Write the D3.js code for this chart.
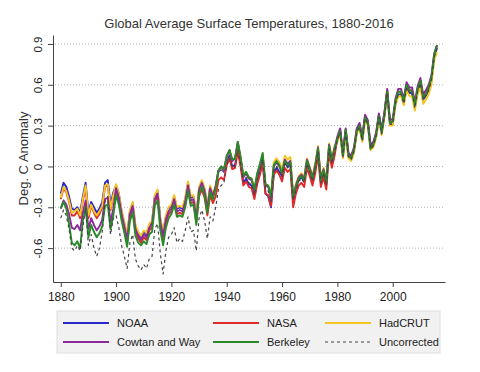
<!DOCTYPE html>
<html>
<head>
<meta charset="utf-8">
<script src="https://cdn.jsdelivr.net/npm/d3@7"></script>
<style>
  body { margin: 0; background: #fff; }
  svg { display: block; font-family: "Liberation Sans", Arial, sans-serif; }
</style>
</head>
<body>
<div id="chart"></div>
<script>
// Years covered by every series (one value per year, 1880-2016)
const years = d3.range(1880, 2017);

// Annual anomalies, deg C
const noaa = [
  -0.20,-0.12,-0.15,-0.22,-0.31,-0.32,-0.30,-0.34,-0.22,-0.12,
  -0.34,-0.26,-0.30,-0.34,-0.31,-0.26,-0.12,-0.10,-0.28,-0.19,
  -0.14,-0.20,-0.33,-0.42,-0.51,-0.33,-0.27,-0.44,-0.49,-0.52,
  -0.48,-0.50,-0.43,-0.41,-0.22,-0.18,-0.39,-0.49,-0.37,-0.31,
  -0.29,-0.22,-0.31,-0.30,-0.31,-0.24,-0.12,-0.23,-0.22,-0.37,
  -0.16,-0.11,-0.17,-0.30,-0.15,-0.21,-0.16,-0.04,-0.02,-0.04,
   0.03, 0.08, 0.00, 0.01, 0.13, 0.02,-0.12,-0.09,-0.13,-0.14,
  -0.22,-0.11,-0.04, 0.04,-0.20,-0.22,-0.30,-0.05,-0.01,-0.04,
  -0.07, 0.03, 0.00, 0.02,-0.24,-0.16,-0.10,-0.08,-0.11, 0.03,
  -0.03,-0.10,-0.01, 0.12,-0.11,-0.04,-0.13, 0.14, 0.03, 0.12,
   0.19, 0.25, 0.07, 0.25, 0.07, 0.05, 0.11, 0.25, 0.29, 0.19,
   0.35, 0.31, 0.13, 0.15, 0.22, 0.36, 0.24, 0.37, 0.54, 0.31,
   0.31, 0.46, 0.53, 0.53, 0.46, 0.58, 0.54, 0.54, 0.43, 0.55,
   0.61, 0.49, 0.52, 0.56, 0.63, 0.80, 0.87
];
const nasa = [
  -0.24,-0.16,-0.19,-0.26,-0.36,-0.36,-0.33,-0.38,-0.25,-0.16,
  -0.38,-0.29,-0.34,-0.38,-0.35,-0.30,-0.15,-0.14,-0.32,-0.22,
  -0.18,-0.25,-0.37,-0.46,-0.56,-0.37,-0.31,-0.48,-0.53,-0.56,
  -0.52,-0.54,-0.47,-0.45,-0.26,-0.22,-0.43,-0.53,-0.41,-0.35,
  -0.33,-0.26,-0.35,-0.34,-0.35,-0.28,-0.16,-0.27,-0.26,-0.41,
  -0.22,-0.17,-0.23,-0.36,-0.21,-0.27,-0.22,-0.10,-0.08,-0.10,
   0.01, 0.06,-0.02,-0.01, 0.11, 0.00,-0.14,-0.11,-0.15,-0.16,
  -0.24,-0.13,-0.06, 0.02,-0.20,-0.21,-0.29,-0.06,-0.03,-0.06,
  -0.11,-0.01,-0.04,-0.02,-0.30,-0.20,-0.14,-0.12,-0.15,-0.01,
  -0.07,-0.14,-0.05, 0.08,-0.15,-0.08,-0.17, 0.10,-0.01, 0.08,
   0.21, 0.27, 0.09, 0.27, 0.09, 0.07, 0.13, 0.27, 0.31, 0.21,
   0.37, 0.33, 0.15, 0.17, 0.24, 0.38, 0.26, 0.39, 0.56, 0.33,
   0.33, 0.48, 0.55, 0.55, 0.48, 0.60, 0.56, 0.56, 0.45, 0.57,
   0.63, 0.51, 0.54, 0.58, 0.65, 0.82, 0.89
];
const hadcrut = [
  -0.23,-0.15,-0.18,-0.25,-0.34,-0.33,-0.31,-0.36,-0.24,-0.14,
  -0.36,-0.28,-0.33,-0.36,-0.33,-0.29,-0.14,-0.13,-0.31,-0.21,
  -0.13,-0.20,-0.32,-0.41,-0.50,-0.32,-0.26,-0.43,-0.48,-0.51,
  -0.47,-0.49,-0.42,-0.40,-0.21,-0.17,-0.38,-0.48,-0.36,-0.30,
  -0.28,-0.21,-0.30,-0.29,-0.30,-0.23,-0.11,-0.22,-0.21,-0.36,
  -0.15,-0.10,-0.16,-0.29,-0.14,-0.20,-0.15,-0.03,-0.01,-0.03,
   0.07, 0.12, 0.05, 0.05, 0.17, 0.07,-0.07,-0.04,-0.08,-0.09,
  -0.17,-0.06, 0.01, 0.09,-0.13,-0.14,-0.22, 0.03, 0.06, 0.03,
  -0.02, 0.08, 0.05, 0.07,-0.21,-0.13,-0.07,-0.05,-0.08, 0.06,
   0.00,-0.07, 0.02, 0.15,-0.08,-0.01,-0.10, 0.17, 0.06, 0.15,
   0.18, 0.24, 0.06, 0.24, 0.06, 0.04, 0.10, 0.24, 0.28, 0.18,
   0.34, 0.30, 0.12, 0.14, 0.21, 0.35, 0.23, 0.36, 0.54, 0.30,
   0.30, 0.45, 0.51, 0.52, 0.45, 0.56, 0.52, 0.51, 0.41, 0.53,
   0.58, 0.46, 0.49, 0.53, 0.60, 0.78, 0.84
];
const cowtanWay = [
  -0.31,-0.25,-0.28,-0.35,-0.45,-0.46,-0.43,-0.47,-0.34,-0.25,
  -0.46,-0.38,-0.43,-0.47,-0.44,-0.39,-0.24,-0.23,-0.41,-0.31,
  -0.16,-0.23,-0.35,-0.44,-0.54,-0.35,-0.29,-0.46,-0.51,-0.54,
  -0.50,-0.52,-0.45,-0.43,-0.24,-0.20,-0.41,-0.51,-0.39,-0.33,
  -0.31,-0.24,-0.33,-0.32,-0.33,-0.26,-0.14,-0.25,-0.24,-0.39,
  -0.17,-0.12,-0.18,-0.31,-0.16,-0.22,-0.14,-0.03, 0.00,-0.03,
   0.07, 0.12, 0.04, 0.06, 0.18, 0.06,-0.08,-0.05,-0.09,-0.10,
  -0.18,-0.07, 0.00, 0.08,-0.14,-0.15,-0.23, 0.00, 0.03, 0.00,
  -0.05, 0.05, 0.02, 0.04,-0.22,-0.14,-0.08,-0.06,-0.09, 0.05,
  -0.01,-0.08, 0.01, 0.14,-0.09,-0.02,-0.11, 0.16, 0.05, 0.14,
   0.22, 0.28, 0.10, 0.28, 0.10, 0.08, 0.14, 0.28, 0.32, 0.22,
   0.38, 0.34, 0.16, 0.18, 0.25, 0.39, 0.27, 0.40, 0.57, 0.34,
   0.35, 0.50, 0.57, 0.57, 0.50, 0.62, 0.58, 0.58, 0.47, 0.59,
   0.65, 0.53, 0.56, 0.60, 0.67, 0.83, 0.89
];
const berkeley = [
  -0.31,-0.26,-0.31,-0.42,-0.56,-0.58,-0.55,-0.60,-0.40,-0.30,
  -0.52,-0.43,-0.48,-0.52,-0.49,-0.44,-0.29,-0.28,-0.46,-0.36,
  -0.21,-0.28,-0.40,-0.49,-0.59,-0.40,-0.34,-0.51,-0.56,-0.58,
  -0.55,-0.57,-0.50,-0.48,-0.29,-0.25,-0.47,-0.58,-0.45,-0.38,
  -0.35,-0.28,-0.37,-0.36,-0.37,-0.30,-0.18,-0.29,-0.28,-0.43,
  -0.20,-0.15,-0.21,-0.34,-0.19,-0.24,-0.16,-0.03, 0.00,-0.02,
   0.08, 0.12, 0.05, 0.06, 0.18, 0.07,-0.07,-0.04,-0.08,-0.09,
  -0.17,-0.05, 0.02, 0.10,-0.13,-0.14,-0.22, 0.01, 0.04, 0.01,
  -0.05, 0.04, 0.01, 0.03,-0.22,-0.15,-0.09,-0.07,-0.10, 0.04,
  -0.02,-0.09, 0.00, 0.13,-0.10,-0.03,-0.12, 0.15, 0.04, 0.13,
   0.20, 0.26, 0.08, 0.27, 0.08, 0.06, 0.12, 0.26, 0.30, 0.20,
   0.36, 0.32, 0.13, 0.16, 0.23, 0.37, 0.25, 0.38, 0.55, 0.32,
   0.33, 0.48, 0.55, 0.55, 0.48, 0.60, 0.56, 0.55, 0.45, 0.57,
   0.63, 0.50, 0.53, 0.58, 0.65, 0.82, 0.89
];
const uncorrected = [
  -0.38,-0.32,-0.36,-0.46,-0.60,-0.62,-0.58,-0.62,-0.44,-0.30,
  -0.58,-0.50,-0.60,-0.66,-0.60,-0.48,-0.25,-0.22,-0.50,-0.38,
  -0.36,-0.45,-0.58,-0.66,-0.75,-0.56,-0.50,-0.68,-0.73,-0.76,
  -0.72,-0.75,-0.68,-0.66,-0.46,-0.42,-0.64,-0.79,-0.62,-0.52,
  -0.50,-0.45,-0.56,-0.53,-0.55,-0.47,-0.37,-0.48,-0.47,-0.62,
  -0.38,-0.32,-0.40,-0.53,-0.37,-0.40,-0.30,-0.17,-0.14,-0.12,
   0.01, 0.06,-0.01, 0.00, 0.12, 0.02,-0.11,-0.08,-0.12,-0.13,
  -0.21,-0.10,-0.03, 0.05,-0.17,-0.18,-0.26,-0.03, 0.00,-0.03,
  -0.08, 0.02,-0.01, 0.01,-0.25,-0.17,-0.11,-0.09,-0.12, 0.02,
  -0.04,-0.11,-0.02, 0.11,-0.12,-0.05,-0.14, 0.13, 0.02, 0.11,
   0.19, 0.25, 0.07, 0.25, 0.07, 0.05, 0.11, 0.25, 0.29, 0.19,
   0.35, 0.31, 0.13, 0.15, 0.22, 0.36, 0.24, 0.37, 0.54, 0.31,
   0.31, 0.46, 0.53, 0.53, 0.46, 0.58, 0.54, 0.54, 0.43, 0.55,
   0.61, 0.49, 0.52, 0.56, 0.63, 0.80, 0.87
];

// Axis ticks and labels (Stata-style hyphen minus)
const xTicks = [1880, 1900, 1920, 1940, 1960, 1980, 2000];
const yTicks = [-0.6, -0.3, 0, 0.3, 0.6, 0.9];
const yTickLabels = ["-0.6", "-0.3", "0", "0.3", "0.6", "0.9"];

// Series in drawing order; legend order is set separately below
const series = [
  { name: "NOAA", values: noaa, color: "#2828c8" },
  { name: "NASA", values: nasa, color: "#e02a2a" },
  { name: "HadCRUT", values: hadcrut, color: "#f5c421" },
  { name: "Cowtan and Way", values: cowtanWay, color: "#8c2a9a" },
  { name: "Berkeley", values: berkeley, color: "#2a8a2a" },
  { name: "Uncorrected", values: uncorrected, color: "#444", dash: "3,3" }
];
const legendOrder = ["NOAA", "NASA", "HadCRUT", "Cowtan and Way", "Berkeley", "Uncorrected"];

const width = 480, height = 372;
const plot = { left: 53, right: 445, top: 35, bottom: 282 };

const svg = d3.select("#chart")
  .append("svg")
  .attr("width", width)
  .attr("height", height);

svg.append("rect").attr("width", width).attr("height", height).attr("fill", "#fff");

const x = d3.scaleLinear().domain([1877.2, 2018.9]).range([plot.left, plot.right]);
const y = d3.scaleLinear().domain([-0.849, 0.966]).range([plot.bottom, plot.top]);

// Title
svg.append("text")
  .attr("x", (plot.left + plot.right) / 2)
  .attr("y", 28)
  .attr("text-anchor", "middle")
  .attr("font-size", 13)
  .attr("fill", "#333")
  .text("Global Average Surface Temperatures, 1880-2016");

// Dotted gridlines
svg.append("g")
  .selectAll("line")
  .data(yTicks)
  .join("line")
  .attr("x1", plot.left + 2)
  .attr("x2", plot.right)
  .attr("y1", d => y(d))
  .attr("y2", d => y(d))
  .attr("stroke", "#b4b4b4")
  .attr("stroke-width", 1)
  .attr("stroke-dasharray", "1,2");

// Y axis
const yAxis = svg.append("g")
  .attr("transform", `translate(${plot.left},0)`)
  .call(d3.axisLeft(y).tickValues(yTicks).tickSize(5).tickSizeOuter(0)
    .tickFormat((d, i) => yTickLabels[i]));
yAxis.selectAll("text")
  .attr("x", null)
  .attr("dy", null)
  .attr("transform", "translate(-11,0) rotate(-90)")
  .attr("text-anchor", "middle")
  .attr("font-size", 11.5)
  .attr("fill", "#222");

// X axis
const xAxis = svg.append("g")
  .attr("transform", `translate(0,${plot.bottom})`)
  .call(d3.axisBottom(x).tickValues(xTicks).tickSize(5).tickPadding(5).tickSizeOuter(0)
    .tickFormat(d3.format("d")));
xAxis.selectAll("text")
  .attr("font-size", 12)
  .attr("fill", "#222");

svg.selectAll(".domain, .tick line").attr("stroke", "#444");
svg.selectAll(".tick text").attr("font-family", null);
svg.selectAll(".tick").attr("font-family", null);
svg.selectAll("g").filter(function() { return this.getAttribute("font-family"); })
  .attr("font-family", null);

// Y axis title
svg.append("text")
  .attr("transform", `translate(28,${(plot.top + plot.bottom) / 2}) rotate(-90)`)
  .attr("text-anchor", "middle")
  .attr("font-size", 13)
  .attr("fill", "#333")
  .text("Deg. C Anomaly");

// Temperature lines
const line = d3.line()
  .x((d, i) => x(years[i]))
  .y(d => y(d));

svg.append("g")
  .selectAll("path")
  .data(series)
  .join("path")
  .attr("d", d => line(d.values))
  .attr("fill", "none")
  .attr("stroke", d => d.color)
  .attr("stroke-width", d => d.dash ? 1.2 : 1.9)
  .attr("stroke-dasharray", d => d.dash || null)
  .attr("stroke-linejoin", "round");

// Legend box
const legend = svg.append("g");
legend.append("rect")
  .attr("x", 57).attr("y", 311)
  .attr("width", 383).attr("height", 42)
  .attr("fill", "#f1f1f1")
  .attr("stroke", "#dedede");

const colX = [63, 213, 325];
const rowY = [323, 342];

const items = legend.selectAll("g.item")
  .data(legendOrder.map(n => series.find(s => s.name === n)))
  .join("g")
  .attr("class", "item")
  .attr("transform", (d, i) => `translate(${colX[i % 3]},${rowY[Math.floor(i / 3)]})`);

items.append("line")
  .attr("x1", 0).attr("x2", 46)
  .attr("stroke", d => d.color)
  .attr("stroke-width", d => d.dash ? 1.2 : 2)
  .attr("stroke-dasharray", d => d.dash || null);

items.append("text")
  .attr("x", 54)
  .attr("dy", "0.35em")
  .attr("font-size", 11)
  .attr("fill", "#222")
  .text(d => d.name);
</script>
</body>
</html>
